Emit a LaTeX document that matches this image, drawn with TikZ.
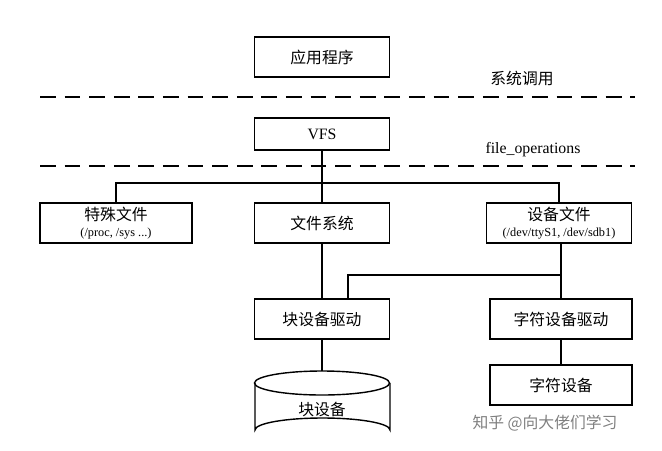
\documentclass[tikz,border=0pt]{standalone}
\usepackage{fontspec}
\setmainfont{Liberation Serif}
\newfontfamily\cjk{Noto Sans CJK SC}
\usetikzlibrary{shapes.geometric}
\begin{document}
\begin{tikzpicture}[x=0.02cm,y=-0.02cm,
	box/.style={draw,thick,minimum width=2.7cm,minimum height=0.8cm,inner sep=0pt,font=\cjk\small},
	sep/.style={thick,dash pattern=on 9pt off 5pt},
	link/.style={thick}]
	\useasboundingbox (0,0) rectangle (662,450);
	
	\node[box] (app) at (322,57) {应用程序};
	\node[box,minimum height=0.64cm,font=\small] (vfs) at (322,134) {VFS};
	\draw[sep] (40,97) -- (635,97);
	\draw[sep] (40,166) -- (635,166);
	\node[font=\cjk\small] (sc) at (522,78) {系统调用};
	\node[font=\small] (fo) at (533,150) {file\_operations};
	
	\node[box,minimum width=3.04cm,align=center] (spec) at (116,223) {特殊文件\\[-2pt]{\rmfamily\scriptsize (/proc, /sys ...)}};
	\node[box] (fs) at (322,223) {文件系统};
	\node[box,minimum width=2.9cm,align=center] (dev) at (559,223) {设备文件\\[-2pt]{\rmfamily\scriptsize (/dev/ttyS1, /dev/sdb1)}};
	\node[box] (blk) at (322,319) {块设备驱动};
	\node[box,minimum width=2.84cm] (chr) at (561,319) {字符设备驱动};
	\node[box,minimum width=2.84cm] (cdev) at (561,385) {字符设备};
	
	% cylinder
	\coordinate (disk) at (322,371);
	\draw[thick] (255,383) -- (255,430) arc[start angle=180,end angle=360,x radius=67.5,y radius=12] -- (390,383);
	\draw[thick] (322,383) ellipse[x radius=67.5,y radius=12];
	\node[font=\cjk\small] (bdev) at (322,409) {块设备};
	
	\coordinate (j) at (322,183);
	\coordinate (k) at (348,275);
	\draw[link] (vfs) -- (j);
	\draw[link] (spec.north) |- (j) -| (dev.north);
	\draw[link] (j) -- (fs);
	\draw[link] (fs) -- (blk);
	\draw[link] (dev.south -| chr) -- (chr);
	\draw[link] (k -| chr) -- (k) -- (k |- blk.north);
	\draw[link] (chr) -- (cdev);
	\draw[link] (blk) -- (disk);
	
	\node[font=\cjk\small,text=gray] (wm) at (545,423) {知乎 @向大佬们学习};
\end{tikzpicture}
\end{document}
